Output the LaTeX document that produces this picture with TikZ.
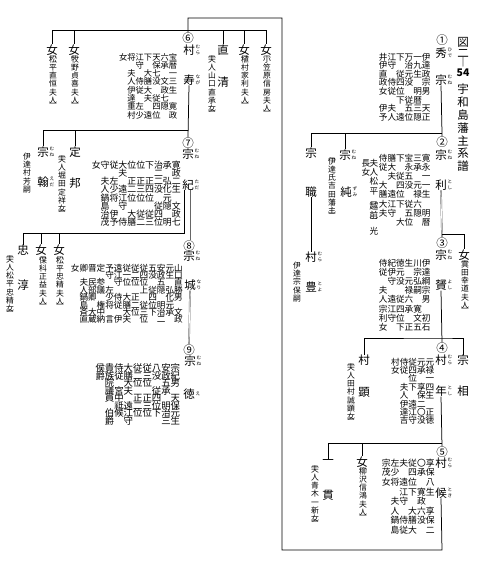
\documentclass[tikz,border=0pt]{standalone}
\usepackage{fontspec}
\setmainfont{Noto Sans CJK JP}
\usetikzlibrary{positioning,calc}

\ExplSyntaxOn
\bool_new:N \g_tate_first_bool
\tl_new:N \g_tate_prev_tl
\tl_new:N \l_tate_cur_tl
\tl_const:Nn \c_tate_lb_tl {︹}
\tl_const:Nn \c_tate_rb_tl {︺}
\NewDocumentCommand \tate { m }
  {
    \bool_gset_true:N \g_tate_first_bool
    \tl_gclear:N \g_tate_prev_tl
    \tl_map_inline:nn {#1}
      {
        \tl_set:Nn \l_tate_cur_tl {##1}
        \bool_if:NTF \g_tate_first_bool
          { \bool_gset_false:N \g_tate_first_bool }
          {
            \tl_if_eq:NNTF \g_tate_prev_tl \c_tate_lb_tl
              { \\[-3pt] }
              { \tl_if_eq:NNTF \l_tate_cur_tl \c_tate_rb_tl { \\[-3pt] } { \\ } }
          }
        ##1
        \tl_gset:Nn \g_tate_prev_tl {##1}
      }
  }
\ExplSyntaxOff

\tikzset{
  nmch/.style={inner sep=0pt, font=\fontsize{11.5}{11.5}\selectfont},
  rbch/.style={inner sep=0pt, anchor=west, align=center, font=\fontsize{4.6}{5.6}\selectfont},
  numch/.style={inner sep=0pt, font=\fontsize{11.5}{11.5}\selectfont},
  ttl/.style={inner sep=0pt, align=center, font=\fontsize{11.5}{12.8}\selectfont},
  dfont/.style 2 args={font={\fontsize{#1}{#2}\selectfont\lineskiplimit-20pt}},
  desc/.style={inner sep=0pt, anchor=north west, align=left, dfont={8.6}{9.2}},
  descv/.style={inner sep=0pt, anchor=north, align=center, dfont={8.6}{9.2}},
  note/.style={inner sep=0pt, anchor=north, align=center, dfont={7.8}{8.1}},
  kei/.style={line width=0.75pt},
  yoshi/.style={draw=black!60, double=white, double distance=0.7pt, line width=0.45pt}
}

% name character with its reading beside it
\newcommand{\mei}[5]{\node[nmch] (#1) at (#2,#3) {#4};
  \node[rbch] (#1r) at ([xshift=0.4pt]#1.east) {\tate{#5}};}

\begin{document}
\begin{tikzpicture}[x=1pt,y=-1pt]
\fill[white] (0,0) rectangle (480,564);
\useasboundingbox (0,0) rectangle (480,564);

% title
\node[ttl] (ttla) at (463,42) {図};
\node[ttl] (ttlb) at (463,53) {二};
\node[ttl] (ttlc) at (463,62.5) {︱};
\node[ttl,font=\fontsize{10.5}{10.5}\selectfont\bfseries] (ttld) at (463,73) {54};
\node[ttl,anchor=north] (ttle) at (463,84) {\tate{宇和島藩主系譜}};

% main line, right
\node[numch] (m1) at (442,40) {①};
\mei{s1a}{441}{53}{秀}{ひで}
\mei{s1b}{441}{80}{宗}{むね}
\node[desc,dfont={8.6}{8.6}] (b1) at (378.7,52.7) {井江下万一伊\\伊守　治九達\\直　従元生政\\政侍四没　宗\\女従位　明男\\　　下従暦　\\伊夫　五三天\\予人遠位隠正};

\node[numch] (m2) at (442,142) {②};
\mei{s2a}{441}{155}{宗}{むね}
\mei{s2b}{441}{185}{利}{とし}
\node[desc] (b2) at (378.7,153.7) {侍膳下宝三寛\\従大　永承永\\　夫従五　一\\大　四没元一\\膳遠位　禄生\\大江下従六　\\夫守　五隠明\\　　大位　暦};
\node[descv] (b2a) at (374,159) {\tate{夫人松平︹越前︺光}};
\node[descv] (b2b) at (366,159) {\tate{長女}};

\node[numch] (m3) at (442,243) {③};
\mei{s3a}{441}{255}{宗}{むね}
\mei{s3b}{441}{285}{贇}{よし}
\node[desc] (b3) at (378.7,258.7) {侍紀徳生川伊\\従伊元　宗達\\　守没元弘綱\\夫　　禄嗣宗\\人遠従六　男\\宗江四承寛　\\利守位　文初\\女　下正五石};
\node[nmch] (f2) at (464,255) {女};
\node[note] (f2n) at (465,261) {\tate{︹真田幸道夫人︺}};

\node[numch] (m4) at (442,348) {④};
\mei{s4a}{441}{360}{村}{むら}
\mei{s4b}{441}{391}{年}{とし}
\node[desc,dfont={8.6}{8.4}] (b4) at (391,357.7) {村侍従元元\\女従四承禄\\　　位　一\\　夫下享四\\　人　保生\\　伊遠二　\\　達江〇正\\　吉守没徳};
\mei{so1}{463}{360}{宗}{}
\mei{so2}{463}{391}{相}{}
\mei{ak1}{364}{360}{村}{}
\mei{ak2}{364}{392}{顕}{}
\node[note] (akn) at (351,364) {\tate{︹夫人田村誠顕女︺}};

\node[numch] (m5) at (442,452) {⑤};
\mei{s5a}{441}{463}{村}{むら}
\mei{s5b}{441}{493}{候}{とき}
\node[desc,dfont={8.8}{9.6}] (b5) at (381.6,458.6) {宗左夫従〇享\\茂少　四承保\\女将遠位　八\\　　江下寛生\\　夫守　政　\\　人　大六享\\　鍋侍膳没保\\　島従大　二};
\mei{ik1}{328}{462}{一}{}
\mei{ik2}{328}{495}{貫}{}
\node[note] (ikn) at (315,466) {\tate{︹夫人青木一新女︺}};
\node[nmch] (f4) at (362,462) {女};
\node[note] (f4n) at (363,468) {\tate{︹柳沢信鴻夫人︺}};

% sons of the first lord
\mei{mk1}{311}{153}{宗}{}
\mei{mk2}{311}{192}{職}{}
\mei{mt1}{311}{257}{村}{むら}
\mei{mt2}{311}{287}{豊}{とよ}
\node[note] (mtn) at (297,262) {\tate{伊達宗保嗣}};
\mei{sj1}{345}{155}{宗}{むね}
\mei{sj2}{346}{192}{純}{ずみ}
\node[note] (sjn) at (332,158) {\tate{︹伊達氏吉田藩主︺}};

% left half
\node[numch] (m6) at (188,38) {⑥};
\mei{s6a}{189}{50}{村}{むら}
\mei{s6b}{189}{80}{寿}{なが}
\node[desc,dfont={8.3}{8.3}] (b6) at (118.85,52.85) {女将江下天六宝\\　　守　保承暦\\　夫　大七　一\\　人侍膳没文三\\　伊従大　政生\\　達　夫従七　\\　重左　四隠寛\\　村少遠位　政};
\node[nmch] (f6a) at (52,50) {女};
\node[note] (f6an) at (53,56) {\tate{︹松平直恒夫人︺}};
\node[nmch] (f6b) at (74,50) {女};
\node[note] (f6bn) at (75,56) {\tate{︹牧野貞喜夫人︺}};
\mei{nk1}{223}{50}{直}{}
\mei{nk2}{223}{82}{清}{}
\node[note] (nkn) at (212,56) {\tate{︹夫人山口直承女︺}};
\node[nmch] (f6c) at (244,50) {女};
\node[note] (f6cn) at (245,56) {\tate{︹植村家利夫人︺}};
\node[nmch] (f6d) at (266,50) {女};
\node[note] (f6dn) at (267,56) {\tate{︹小笠原信房夫人︺}};

\node[numch] (m7) at (188,143) {⑦};
\mei{s7a}{188}{154}{宗}{むね}
\mei{s7b}{188}{185}{紀}{ただ}
\node[desc,dfont={8.9}{8.2}] (b7) at (91.55,160.55) {女守従大位位下治承寛\\　　　夫　　　二　政\\　夫左　正正正二弘二\\　人少遠二三四没化生\\　鍋将江位位位　元　\\　島　守　　　従隠文\\　治伊　大従従四　政\\　茂予侍膳二三位明七};
\mei{kn1}{43}{152}{宗}{むね}
\mei{kn2}{43}{182}{翰}{えだ}
\node[note] (knn) at (27,153) {\tate{伊達村芳嗣}};
\mei{sd1}{75}{152}{定}{}
\mei{sd2}{75}{183}{邦}{}
\node[note] (sdn) at (62,156) {\tate{︹夫人堀田定祥女︺}};

\node[numch] (m8) at (189,246) {⑧};
\mei{s8a}{189}{256}{宗}{むね}
\mei{s8b}{190}{285}{城}{なり}
\node[desc,dfont={8.6}{7.4}] (b8) at (70.7,263.7) {女卿晋定予遠従従従五安元山\\　　　　守江一二四没政生口\\　夫民参　守位位位　五　直\\　人部議左　　　上従隠弘勝\\　鍋卿　少侍大正　四　化男\\　島　権将従膳二従位明元　\\　斉大中　　大位三下治承文\\　直蔵納言伊夫　位　二　政};
\mei{tj1}{23}{250}{忠}{}
\mei{tj2}{23}{285}{淳}{}
\node[note] (tjn) at (10,256) {\tate{︹夫人松平忠精女︺}};
\node[nmch] (f7a) at (41,250) {女};
\node[note] (f7an) at (43,257) {\tate{︹保科正益夫人︺}};
\node[nmch] (f7b) at (59,250) {女};
\node[note] (f7bn) at (60,257) {\tate{︹松平忠精夫人︺}};

\node[numch] (m9) at (189,350) {⑨};
\mei{s9a}{190}{361}{宗}{むね}
\mei{s9b}{189}{394}{徳}{え}
\node[desc,dfont={9.4}{7.5}] (b9) at (95.3,363.7) {侯貴侍大従従八安宗\\爵族従膳二三没政紀\\　院　大位位　五男\\　議宮夫　　従承　\\　員中　正正四　天\\　　祗遠二三位明保\\　伯候江位位下治元\\　爵　守　　　三生};

% connectors
\coordinate (j1) at (442,133);
\coordinate (j1w) at (311,133);
\draw[kei] (s1b.south) -- (j1) -- (m2.north);
\draw[kei] (j1) -- (j1w) -- (mk1.north);
\draw[kei] (sj1.north) -- (sj1.north |- j1);
\draw[kei] (mk2.south) -- (mt1.north);
\draw[yoshi] (s2b.south) -- (m3.north);
\coordinate (j2) at (442,234);
\draw[kei] (j2) -| (f2.north);
\coordinate (j3) at (442,338);
\draw[kei] (s3b.south) -- (m4.north);
\draw[kei] (ak1.north) |- (j3) -| (so1.north);
\coordinate (j4) at (442,443);
\draw[kei] (s4b.south) -- (m5.north);
\draw[kei] (ik1.north) |- (j4);
\draw[kei] (f4.north) -- (f4.north |- j4);
\coordinate (lp1) at (442,550);
\coordinate (lp2) at (282,550);
\coordinate (lp3) at (282,18);
\coordinate (lp4) at (188,18);
\draw[kei] (s5b.south) -- (lp1) -- (lp2) -- (lp3) -- (lp4) -- (m6.north);
\coordinate (sibw) at (52,30);
\coordinate (sibe) at (266,30);
\draw[kei] (f6a.north) -- (sibw) -- (sibe) -- (f6d.north);
\draw[kei] (f6b.north) -- (f6b.north |- sibw);
\draw[kei] (nk1.north) -- (nk1.north |- sibw);
\draw[kei] (f6c.north) -- (f6c.north |- sibw);
\coordinate (j6) at (188,130);
\draw[kei] (s6b.south) -- (m7.north);
\draw[kei] (kn1.north) |- (j6);
\draw[kei] (sd1.north) -- (sd1.north |- j6);
\coordinate (j7) at (184,233);
\draw[kei] ([xshift=-4pt]s7b.south) -- (j7) -| (tj1.north);
\draw[kei] (f7a.north) -- (f7a.north |- j7);
\draw[kei] (f7b.north) -- (f7b.north |- j7);
\draw[yoshi] ([xshift=3pt]s7b.south) -- ([xshift=2pt]m8.north);
\draw[yoshi] (s8b.south) -- (m9.north);
\end{tikzpicture}
\end{document}
